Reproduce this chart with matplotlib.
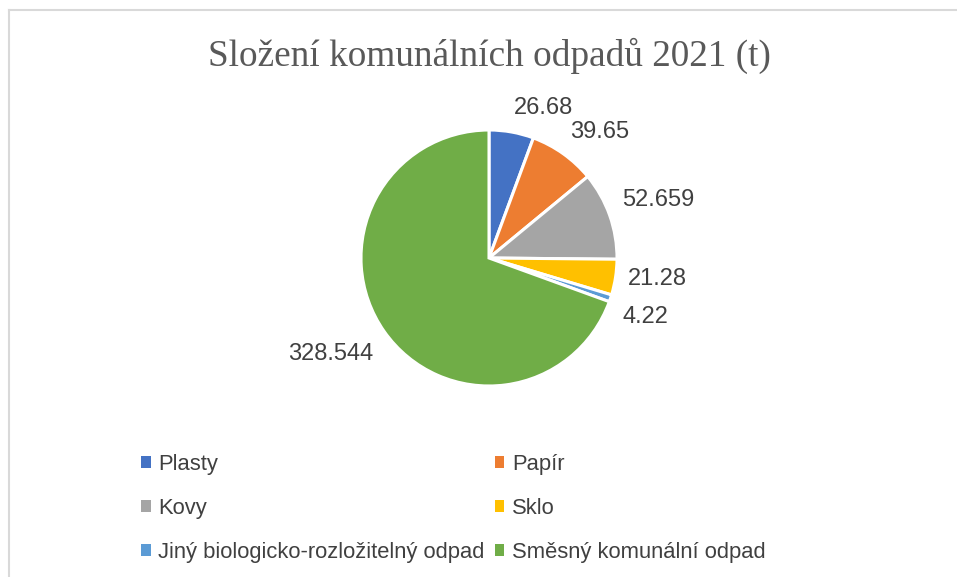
import numpy as np
import matplotlib
matplotlib.use("Agg")
import matplotlib.pyplot as plt
from matplotlib.patches import Patch
from matplotlib.lines import Line2D

categories = ["Plasty", "Papír", "Kovy", "Sklo",
              "Jiný biologicko-rozložitelný odpad", "Směsný komunální odpad"]
values = [26.68, 39.65, 52.659, 21.28, 4.22, 328.544]
value_labels = ["26.68", "39.65", "52.659", "21.28", "4.22", "328.544"]
colors = ["#4472C4", "#ED7D31", "#A5A5A5", "#FFC000", "#5B9BD5", "#70AD47"]
title = "Složení komunálních odpadů 2021 (t)"

W, H, DPI = 957, 577, 100
fig = plt.figure(figsize=(W / DPI, H / DPI), dpi=DPI)
fig.patch.set_facecolor("white")

# chart frame (top and left edges visible)
fig.add_artist(Line2D([8.5 / W, 1.0], [1 - 9.5 / H, 1 - 9.5 / H],
                      transform=fig.transFigure, color="#D9D9D9", lw=1.5))
fig.add_artist(Line2D([8.5 / W, 8.5 / W], [0.0, 1 - 9.5 / H],
                      transform=fig.transFigure, color="#D9D9D9", lw=1.5))

# pie axes: center (489, 258), radius 128 px
cx, cy, r = 489, 258, 128
ax = fig.add_axes([(cx - r) / W, 1 - (cy + r) / H, 2 * r / W, 2 * r / H])
wedges, _ = ax.pie(values, colors=colors, startangle=90, counterclock=False,
                   radius=1.0,
                   wedgeprops=dict(edgecolor="white", linewidth=2.2))
ax.set_xlim(-1, 1)
ax.set_ylim(-1, 1)
ax.set_aspect("equal")
ax.axis("off")

gap = 1.10
for w, lab in zip(wedges, value_labels):
    ang = np.deg2rad((w.theta1 + w.theta2) / 2)
    ux, uy = np.cos(ang), np.sin(ang)
    ha = "left" if ux > 0.1 else ("right" if ux < -0.1 else "center")
    va = "bottom" if uy > 0.3 else ("top" if uy < -0.3 else "center")
    ax.text(gap * ux, gap * uy - (0.03 if uy < -0.3 else 0.0), lab,
            ha=ha, va=va, fontsize=17,
            family="Liberation Sans", color="#404040", clip_on=False)

fig.text(489 / W, 1 - 56 / H, title, ha="center", va="center",
         family="Liberation Serif", fontsize=26.8, color="#595959")

# legend filled row by row (2 columns)
order = [0, 2, 4, 1, 3, 5]
handles = [Patch(facecolor=colors[i], edgecolor="none") for i in order]
labels = [categories[i] for i in order]
leg = fig.legend(handles, labels, ncol=2, loc="upper left",
                 bbox_to_anchor=(121 / W, 1 - 434 / H), frameon=False,
                 prop=dict(family="Liberation Sans", size=15.8),
                 handlelength=0.45, handleheight=0.45, handletextpad=0.35,
                 columnspacing=0.45, labelspacing=1.05, labelcolor="#404040")

fig.savefig("out.png", dpi=DPI, facecolor="white")
